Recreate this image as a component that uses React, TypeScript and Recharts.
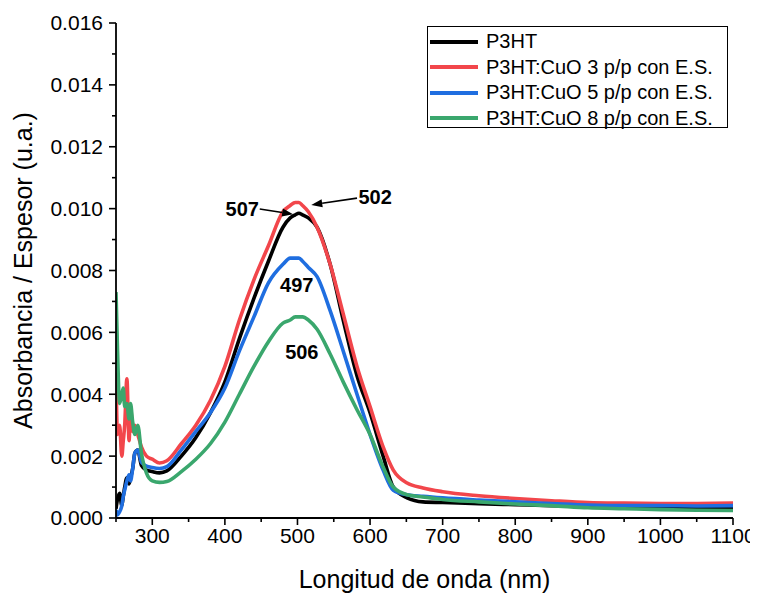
import { LineChart, Line, XAxis, YAxis, Legend, ReferenceDot, ReferenceLine } from 'recharts';

const wavelengths = [
  250, 252, 255, 258, 260, 262, 265, 268, 270, 273, 276, 280, 285, 292, 300, 310, 320, 340, 360, 380,
  400, 420, 440, 460, 480, 490, 497, 502, 507, 515, 527, 545, 563, 582, 600, 618, 632, 651, 673, 700,
  750, 800, 850, 900, 950, 1000, 1050, 1100,
];

const p3ht = [
  0.0003, 0.0006, 0.0008, 0.0004, 0.0007, 0.001, 0.0013, 0.0011, 0.0013, 0.0016, 0.0021, 0.0022, 0.0017, 0.00155, 0.0015, 0.00146, 0.00152, 0.002, 0.0026, 0.0034,
  0.0044, 0.0058, 0.0071, 0.0083, 0.0094, 0.0097, 0.0098, 0.00985, 0.0098, 0.0097, 0.0094, 0.0082, 0.0064, 0.0046, 0.0034, 0.002, 0.001, 0.00065, 0.00052, 0.0005,
  0.00046, 0.00043, 0.0004, 0.00038, 0.00036, 0.00035, 0.00034, 0.00033,
];

const cuo3 = [
  0.0047, 0.0027, 0.003, 0.002, 0.0025, 0.003, 0.0045, 0.0025, 0.0036, 0.0028, 0.003, 0.0027, 0.0023, 0.002, 0.0019, 0.00178, 0.00185, 0.0024, 0.003, 0.0038,
  0.0049, 0.0064, 0.0077, 0.0088, 0.0099, 0.0101, 0.0102, 0.0102, 0.0101, 0.0099, 0.0094, 0.0082, 0.0066, 0.0049, 0.0036, 0.0023, 0.00155, 0.00113, 0.00097, 0.00085,
  0.00072, 0.00063, 0.00056, 0.0005, 0.00048, 0.00047, 0.00047, 0.00048,
];

const cuo5 = [
  0.00026, 0.0001, 0.0002, 0.0004, 0.0007, 0.0009, 0.0012, 0.0014, 0.0012, 0.0016, 0.0021, 0.0022, 0.0018, 0.00168, 0.00163, 0.0016, 0.00166, 0.0022, 0.0028, 0.0034,
  0.0042, 0.0054, 0.0065, 0.0076, 0.0082, 0.0084, 0.0084, 0.0084, 0.0083, 0.0081, 0.0078, 0.0067, 0.0054, 0.004, 0.0027, 0.00155, 0.0009, 0.00075, 0.0007, 0.00065,
  0.00058, 0.00052, 0.00047, 0.00042, 0.0004, 0.0004, 0.00039, 0.0004,
];

const cuo8 = [
  0.0073, 0.0055, 0.0037, 0.004, 0.0042, 0.0036, 0.0037, 0.0032, 0.0037, 0.0031, 0.0027, 0.003, 0.0021, 0.00145, 0.0012, 0.00115, 0.00118, 0.0015, 0.0019, 0.0024,
  0.0031, 0.004, 0.0049, 0.0057, 0.0063, 0.0064, 0.0065, 0.0065, 0.0065, 0.0064, 0.0061, 0.0053, 0.0044, 0.0035, 0.0027, 0.00165, 0.001, 0.00075, 0.00068, 0.0006,
  0.00052, 0.00045, 0.0004, 0.00033, 0.0003, 0.00027, 0.00025, 0.00024,
];

const xMajorTicks = [300, 400, 500, 600, 700, 800, 900, 1000, 1100];
const xMinorTicks = [250, 350, 450, 550, 650, 750, 850, 950, 1050];
const yMajorTicks = [0, 0.002, 0.004, 0.006, 0.008, 0.01, 0.012, 0.014, 0.016];
const yMinorTicks = [0.001, 0.003, 0.005, 0.007, 0.009, 0.011, 0.013, 0.015];

const peakLabels = [
  { text: '507', x: 424, y: 0.00999 },
  { text: '502', x: 607, y: 0.01037 },
  { text: '497', x: 499, y: 0.00753 },
  { text: '506', x: 506, y: 0.00537 },
];

const arrows = [
  { x1: 448, y1: 0.00999, x2: 494, y2: 0.00982 },
  { x1: 582, y1: 0.01034, x2: 519, y2: 0.01012 },
];

const series = [
  { key: 'p3ht', name: 'P3HT', color: '#000000', values: p3ht },
  { key: 'cuo3', name: 'P3HT:CuO 3 p/p con E.S.', color: '#f2464b', values: cuo3 },
  { key: 'cuo5', name: 'P3HT:CuO 5 p/p con E.S.', color: '#1f6ee0', values: cuo5 },
  { key: 'cuo8', name: 'P3HT:CuO 8 p/p con E.S.', color: '#3aa76d', values: cuo8 },
];

const data = wavelengths.map((w, i) => {
  const row: Record<string, number> = { w };
  series.forEach((s) => {
    row[s.key] = s.values[i];
  });
  return row;
});

const FONT = '"Liberation Sans", Arial, sans-serif';

const xMajorSet = new Set(xMajorTicks);
const allXTicks = [...xMajorTicks, ...xMinorTicks].sort((a, b) => a - b);
const allYTicks = [...yMajorTicks, ...yMinorTicks].sort((a, b) => a - b);

const XTick = (props: any) => {
  const { x, y, payload } = props;
  const major = xMajorSet.has(payload.value);
  return (
    <g>
      <line x1={x} y1={y} x2={x} y2={y + (major ? 7 : 4)} stroke="#000" strokeWidth={1.6} />
      {major && (
        <text x={x} y={y + 10} dy="0.71em" textAnchor="middle" fontSize={21} fontFamily={FONT} fill="#000">
          {payload.value}
        </text>
      )}
    </g>
  );
};

const YTick = (props: any) => {
  const { x, y, payload } = props;
  const major = Math.round(payload.value * 1000) % 2 === 0;
  return (
    <g>
      <line x1={x - (major ? 7 : 4)} y1={y} x2={x} y2={y} stroke="#000" strokeWidth={1.6} />
      {major && (
        <text x={x - 13} y={y} dy="0.355em" textAnchor="end" fontSize={21} fontFamily={FONT} fill="#000">
          {payload.value.toFixed(3)}
        </text>
      )}
    </g>
  );
};

const Arrow = (props: any) => {
  const x1 = Number(props.x1);
  const y1 = Number(props.y1);
  const x2 = Number(props.x2);
  const y2 = Number(props.y2);
  const a = Math.atan2(y2 - y1, x2 - x1);
  const len = 11;
  const half = 4;
  const bx = x2 - len * Math.cos(a);
  const by = y2 - len * Math.sin(a);
  const pts = [
    `${x2},${y2}`,
    `${bx + half * Math.sin(a)},${by - half * Math.cos(a)}`,
    `${bx - half * Math.sin(a)},${by + half * Math.cos(a)}`,
  ].join(' ');
  return (
    <g>
      <line x1={x1} y1={y1} x2={bx} y2={by} stroke="#000" strokeWidth={1.6} />
      <polygon points={pts} fill="#000" />
    </g>
  );
};

const renderLegend = () => (
  <div
    style={{
      width: 301,
      height: 102,
      boxSizing: 'border-box',
      border: '1px solid #000',
      background: '#fff',
      padding: '2px 0 0 2px',
      fontFamily: FONT,
      fontSize: 20,
    }}
  >
    {series.map((s) => (
      <div key={s.key} style={{ display: 'flex', alignItems: 'center', height: 25.5 }}>
        <div style={{ width: 48, height: 4, background: s.color, marginRight: 8 }} />
        <span style={{ whiteSpace: 'nowrap', lineHeight: '25px' }}>{s.name}</span>
      </div>
    ))}
  </div>
);

export default function App() {
  return (
    <LineChart width={750} height={589} data={data} margin={{ top: 15, right: 25, bottom: 0, left: 8 }}>
      <XAxis
        dataKey="w"
        type="number"
        domain={[250, 1100]}
        ticks={allXTicks}
        interval={0}
        tick={<XTick />}
        tickLine={false}
        tickSize={0}
        tickMargin={0}
        height={79}
        allowDataOverflow
        axisLine={{ stroke: '#000', strokeWidth: 1.8 }}
        label={{
          value: 'Longitud de onda (nm)',
          position: 'insideBottom',
          offset: 9,
          fontSize: 25,
          fontFamily: FONT,
          fill: '#000',
        }}
      />
      <XAxis
        xAxisId="top"
        dataKey="w"
        type="number"
        orientation="top"
        domain={[250, 1100]}
        height={0}
        tick={false}
        tickLine={false}
        axisLine={{ stroke: '#000', strokeWidth: 1.8 }}
      />
      <YAxis
        type="number"
        domain={[0, 0.016]}
        ticks={allYTicks}
        interval={0}
        tick={<YTick />}
        tickLine={false}
        tickSize={0}
        tickMargin={0}
        width={100}
        allowDataOverflow
        axisLine={{ stroke: '#000', strokeWidth: 1.8 }}
        label={{
          value: 'Absorbancia / Espesor (u.a.)',
          angle: -90,
          position: 'insideLeft',
          offset: 7,
          style: { textAnchor: 'middle' },
          fontSize: 25,
          fontFamily: FONT,
          fill: '#000',
        }}
      />
      <YAxis
        yAxisId="right"
        orientation="right"
        type="number"
        domain={[0, 0.016]}
        width={0}
        tick={false}
        tickLine={false}
        axisLine={{ stroke: '#000', strokeWidth: 1.8 }}
      />
      {series.map((s) => (
        <Line
          key={s.key}
          type="monotone"
          dataKey={s.key}
          name={s.name}
          stroke={s.color}
          strokeWidth={3.6}
          dot={false}
          activeDot={false}
          isAnimationActive={false}
        />
      ))}
      {arrows.map((a, i) => (
        <ReferenceLine
          key={`arrow-${i}`}
          segment={[
            { x: a.x1, y: a.y1 },
            { x: a.x2, y: a.y2 },
          ]}
          shape={<Arrow />}
        />
      ))}
      {peakLabels.map((p) => (
        <ReferenceDot
          key={p.text}
          x={p.x}
          y={p.y}
          r={0}
          shape={(props: any) => (
            <text
              x={props.cx}
              y={props.cy}
              dy="0.355em"
              textAnchor="middle"
              fontSize={20}
              fontWeight="bold"
              fontFamily={FONT}
              fill="#000"
            >
              {p.text}
            </text>
          )}
        />
      ))}
      <Legend
        layout="vertical"
        align="center"
        verticalAlign="middle"
        content={renderLegend}
        wrapperStyle={{ left: 419, top: 18, width: 301, height: 102 }}
      />
    </LineChart>
  );
}
